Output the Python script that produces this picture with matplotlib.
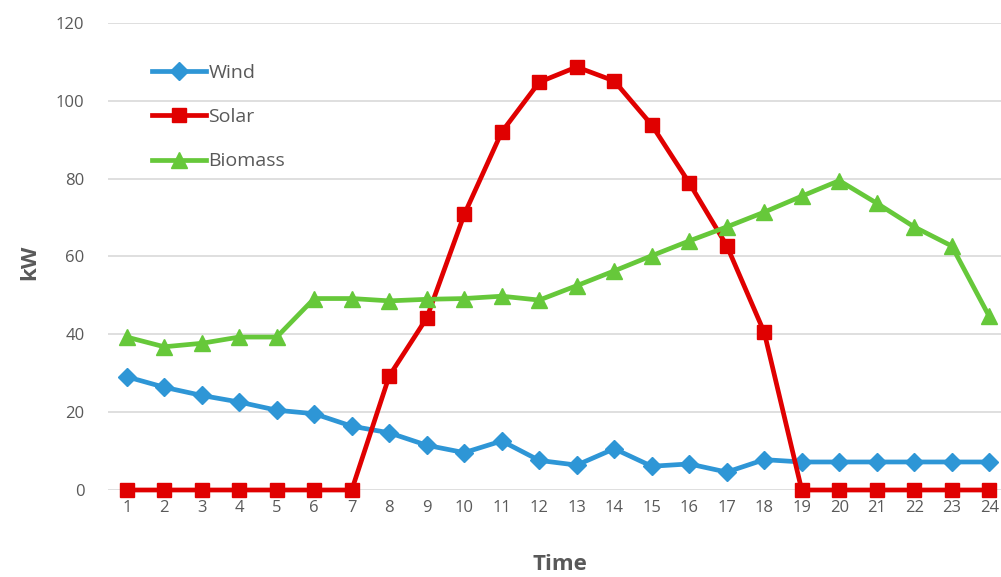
import matplotlib
matplotlib.use("Agg")
import matplotlib.pyplot as plt

hours = list(range(1, 25))
wind = [29.1, 26.4, 24.3, 22.6, 20.5, 19.6, 16.4, 14.7, 11.5, 9.6, 12.6, 7.6,
        6.4, 10.6, 6.1, 6.7, 4.6, 7.8, 7.2, 7.2, 7.2, 7.2, 7.2, 7.2]
solar = [0, 0, 0, 0, 0, 0, 0, 29.3, 44.2, 70.8, 92.0, 104.8,
         108.7, 105.1, 93.8, 78.9, 62.8, 40.5, 0, 0, 0, 0, 0, 0]
biomass = [39.3, 36.8, 37.7, 39.3, 39.3, 49.2, 49.2, 48.6, 49.0, 49.2, 49.8, 48.8,
           52.5, 56.3, 60.2, 64.0, 67.6, 71.4, 75.5, 79.5, 73.7, 67.6, 62.7, 44.6]
yticks = [0, 20, 40, 60, 80, 100, 120]

plt.rcParams['font.family'] = ['Open Sans', 'DejaVu Sans']

fig = plt.figure(figsize=(10.01, 5.77), dpi=100)
ax = fig.add_axes([108/1001, 87/577, 900/1001, 467/577])

ax.plot(hours, wind, color='#2E96D6', lw=3.4, marker='D', ms=9.5, label='Wind',
        zorder=3, clip_on=False)
ax.plot(hours, solar, color='#E00000', lw=3.4, marker='s', ms=10.5, label='Solar',
        zorder=3, clip_on=False)
ax.plot(hours, biomass, color='#66C83A', lw=3.4, marker='^', ms=12, label='Biomass',
        zorder=3, clip_on=False)

ax.set_xlim(0.5, 24.5)
ax.set_ylim(0, 120)
ax.set_xticks(hours)
ax.set_yticks(yticks)
ax.grid(axis='y', color='#D9D9D9', lw=1.2)
ax.set_axisbelow(True)
for s in ax.spines.values():
    s.set_visible(False)
ax.tick_params(length=0, labelsize=12, colors='#595959')
ax.tick_params(axis='x', pad=7)
ax.tick_params(axis='y', pad=17)
for lab in ax.get_xticklabels() + ax.get_yticklabels():
    lab.set_color('#595959')

fig.text(560/1001, 1 - 565/577, 'Time', ha='center', va='center',
         fontsize=16, fontweight='bold', color='#595959')
fig.text(30/1001, 1 - 262/577, 'kW', ha='center', va='center', rotation=90,
         fontsize=16, fontweight='bold', color='#595959')

fig.legend(loc='upper left', bbox_to_anchor=(152/1001, 1 - 64/577), frameon=False,
           fontsize=14, handlelength=2.8, handletextpad=0.1, labelspacing=1.35,
           borderpad=0, borderaxespad=0, labelcolor='#595959')

fig.savefig('out.png', dpi=100, facecolor='white')
